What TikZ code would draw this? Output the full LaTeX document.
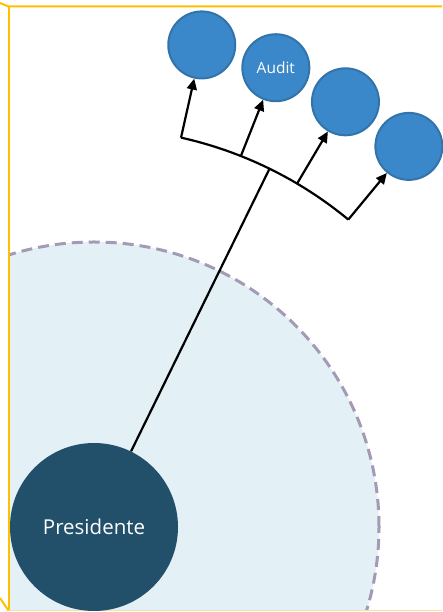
\documentclass[tikz,border=0pt]{standalone}
\usepackage{fontspec}
\usepackage{tikz}
\usetikzlibrary{calc,arrows.meta,positioning,shapes}
\newfontfamily\orgfont{Open Sans}
\definecolor{rahmengelb}{HTML}{FFC000}
\definecolor{rahmenhell}{HTML}{F6E3A0}
\definecolor{umfeldblau}{HTML}{E3F1F6}
\definecolor{umfeldrand}{HTML}{A59AB5}
\definecolor{chefblau}{HTML}{22506A}
\definecolor{einheitblau}{HTML}{3A88C9}
\definecolor{einheitrand}{HTML}{3274A9}
\tikzset{
  rahmen/.style={
      draw=rahmengelb,
      line width=2pt,
  },
  umfeld/.style={
      fill=umfeldblau,
      draw=umfeldrand,
      line width=3pt,
      dash pattern=on 11pt off 6pt,
  },
  chef/.style={
      circle,
      fill=chefblau,
      text=white,
      minimum size=168pt,
      inner sep=0pt,
      font=\orgfont\fontsize{20.5}{24}\selectfont,
  },
  einheit/.style={
      circle,
      fill=einheitblau,
      draw=einheitrand,
      line width=2pt,
      text=white,
      minimum size=67pt,
      inner sep=0pt,
      font=\orgfont\fontsize{15.5}{18}\selectfont,
  },
  linie/.style={
      line width=2.2pt,
  },
  pfeil/.style={
      linie,
      -{Triangle[length=11pt,width=10pt]},
  },
}

\begin{document}
\begin{tikzpicture}[x=1pt,y=1pt]
  \useasboundingbox (0,0) rectangle (442,612);
  \coordinate (hub) at (94,85);

  % Umfeld des Praesidenten
  \begin{scope}
    \clip (8.5,1) rectangle (442,612);
    \draw[umfeld] (hub) circle[radius=285pt];
  \end{scope}

  % Rahmen
  \draw[draw=rahmenhell,line width=1pt] (8.5,1) -- (442,1);
  \draw[rahmen] (0,609) -- (8.5,605.5) -- (442,605.5);
  \draw[rahmen] (8.5,605.5) -- (8.5,1.5);
  \draw[rahmen] (0,14) -- (8.5,1.5);

  \node(pres) [chef] at (hub) {Presidente};

  \node(unit1) [einheit] at ([shift={(77.4:494pt)}]hub) {};
  \node(unit2) [einheit] at ([shift={(68.4:494pt)}]hub) {Audit};
  \node(unit3) [einheit] at ([shift={(59.4:494pt)}]hub) {};
  \node(unit4) [einheit] at ([shift={(50.4:494pt)}]hub) {};

  \coordinate (fork1) at ([shift={(77.4:399pt)}]hub);
  \coordinate (fork2) at ([shift={(68.4:399pt)}]hub);
  \coordinate (fork3) at ([shift={(59.4:399pt)}]hub);
  \coordinate (fork4) at ([shift={(50.4:399pt)}]hub);
  \coordinate (forkmid) at ([shift={(63.9:399pt)}]hub);

  \draw[linie] (pres) -- (forkmid);
  \draw[linie] (fork1) arc[start angle=77.4, end angle=50.4, radius=399pt];

  \draw[pfeil] (fork1) -- (unit1);
  \draw[pfeil] (fork2) -- (unit2);
  \draw[pfeil] (fork3) -- (unit3);
  \draw[pfeil] (fork4) -- (unit4);
\end{tikzpicture}
\end{document}
